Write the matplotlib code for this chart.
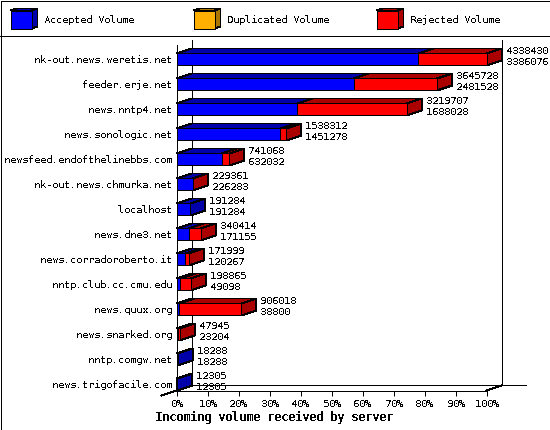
import matplotlib
matplotlib.use('Agg')
import numpy as np
import matplotlib.pyplot as plt
from matplotlib.patches import Rectangle, Polygon

servers = ['nk-out.news.weretis.net', 'feeder.erje.net', 'news.nntp4.net', 'news.sonologic.net',
           'newsfeed.endofthelinebbs.com', 'nk-out.news.chmurka.net', 'localhost', 'news.dne3.net',
           'news.corradoroberto.it', 'nntp.club.cc.cmu.edu', 'news.quux.org', 'news.snarked.org',
           'nntp.comgw.net', 'news.trigofacile.com']
total = np.array([4338430, 3645728, 3219707, 1538312, 741068, 229361, 191284,
                  340414, 171999, 198865, 906018, 47945, 18288, 12305])
accepted = np.array([3386076, 2481528, 1688028, 1451278, 632032, 226283, 191284,
                     171155, 120267, 49098, 38800, 23204, 18288, 12305])
legend_names = ['Accepted Volume', 'Duplicated Volume', 'Rejected Volume']
ticks = np.arange(0, 101, 10)

BLUE, DBLUE = '#0000ff', '#0000aa'
RED, DRED = '#ff0000', '#aa0000'
ORANGE, DORANGE = '#ffb000', '#aa7600'

plt.rcParams['font.family'] = 'DejaVu Sans Mono'
plt.rcParams['font.size'] = 7.2
plt.rcParams['text.antialiased'] = False
plt.rcParams['text.hinting'] = 'native'
plt.rcParams['text.hinting_factor'] = 1

W, H = 550, 430
LW = 0.72
fig = plt.figure(figsize=(W / 100, H / 100), dpi=100)

# overlay in pixels for the frame and the legend
bg = fig.add_axes([0, 0, 1, 1])
bg.set_xlim(0, W)
bg.set_ylim(H, 0)
bg.axis('off')
bg.add_patch(Rectangle((0.5, 0.5), W - 1, H - 1, fc='white', ec='black', lw=LW, aa=False))
bg.plot([0, W], [35.5, 35.5], color='black', lw=LW, aa=False)

for name, lx, tx, c, dc in zip(legend_names, [10.5, 193.5, 376.5], [44, 227, 410.5],
                               [BLUE, ORANGE, RED], [DBLUE, DORANGE, DRED]):
    bg.add_patch(Polygon([(lx + 21, 10.5), (lx + 27, 8.5), (lx + 27, 26.5), (lx + 21, 28.5)],
                         fc=dc, ec='black', lw=LW, aa=False))
    bg.add_patch(Polygon([(lx, 10.5), (lx + 6, 8.5), (lx + 27, 8.5), (lx + 21, 10.5)],
                         fc=dc, ec='black', lw=LW, aa=False))
    bg.add_patch(Rectangle((lx, 10.5), 21, 18, fc=c, ec='black', lw=LW, aa=False))
    bg.text(tx, 20, name, ha='left', va='center')

bg.text(274, 417, 'Incoming volume received by server', weight='bold', fontsize=8.4,
        ha='center', va='center')

# real axes: front plane of the 3d chart
x0, x1 = 176.5, 486.5
ytop, ybot = 45.5, 390.5
ax = fig.add_axes([x0 / W, 1 - ybot / H, (x1 - x0) / W, (ybot - ytop) / H])
ax.patch.set_alpha(0)
ax.set_xlim(0, 100)
ax.set_ylim((ybot - 59.5) / 25, (ytop - 59.5) / 25)
for s in ['top', 'right']:
    ax.spines[s].set_visible(False)
for s in ['left', 'bottom']:
    ax.spines[s].set_linewidth(LW)
    ax.spines[s].set_antialiased(False)
ax.set_yticks(range(len(servers)))
ax.set_yticklabels(servers)
ax.tick_params(axis='y', length=0, pad=3)
ax.set_xticks(ticks)
ax.set_xticklabels(['%d%%' % t for t in ticks])
ax.tick_params(axis='x', length=3.6, width=LW, pad=2.5)

dx = 15 / 3.1
dy = 5 / 25
hh = 6 / 25
ymax = (ybot - 59.5) / 25
ymin = (ytop - 59.5) / 25


def line(xs, ys):
    ax.plot(xs, ys, color='black', lw=LW, aa=False, clip_on=False, zorder=1)


# back walls and floor
line([dx, dx], [ymax - dy, ymin - dy])
line([100 + dx, 100 + dx], [ymax - dy, ymin - dy])
line([dx, 100 + dx + 24 / 3.1 * 1.0], [ymax - dy, ymax - dy])
line([0, -dx], [ymax, ymax + dy])
line([100, 100 + dx], [ymax, ymax - dy])

pct_total = total / total.max() * 100
pct_acc = accepted / total.max() * 100


def block(a, b, i, c, dc, z):
    top, bot = i - hh, i + hh
    ax.add_patch(Polygon([(a, top), (a + dx, top - dy), (b + dx, top - dy), (b, top)],
                         fc=dc, ec='black', lw=LW, aa=False, clip_on=False, zorder=z))
    ax.add_patch(Polygon([(b, top), (b + dx, top - dy), (b + dx, bot - dy), (b, bot)],
                         fc=dc, ec='black', lw=LW, aa=False, clip_on=False, zorder=z))
    ax.barh(i, b - a, left=a, height=2 * hh, color=c, edgecolor='black', linewidth=LW,
            antialiased=False, clip_on=False, zorder=z + 0.5)


for i in range(len(servers)):
    block(0, pct_acc[i], i, BLUE, DBLUE, 2 + i)
    if pct_total[i] > pct_acc[i]:
        block(pct_acc[i], pct_total[i], i, RED, DRED, 2 + i + 0.1)
    tx = pct_total[i] + dx + 1.3
    ax.text(tx, i - 8 / 25, str(total[i]), ha='left', va='center', clip_on=False, zorder=30)
    ax.text(tx, i + 3 / 25, str(accepted[i]), ha='left', va='center', clip_on=False, zorder=30)

fig.savefig('out.png', dpi=100)
